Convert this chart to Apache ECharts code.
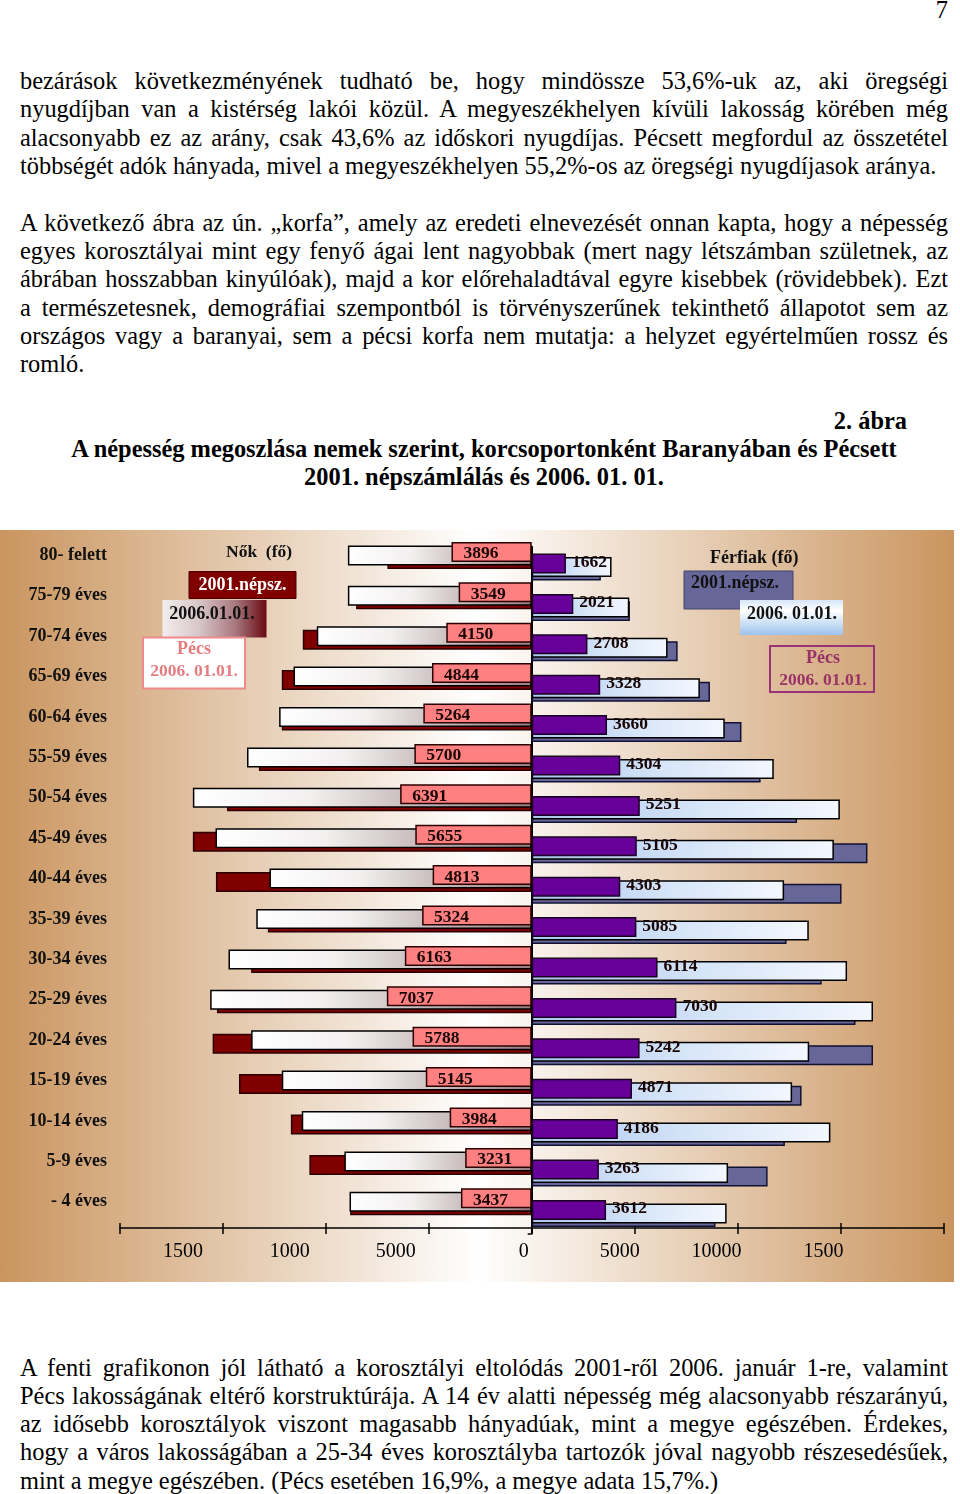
<!DOCTYPE html>
<html><head><meta charset="utf-8">
<script src="https://cdn.jsdelivr.net/npm/echarts@6/dist/echarts.min.js"></script>
<style>
html,body{margin:0;padding:0;background:#fff;}
body{width:960px;height:1494px;position:relative;overflow:hidden;font-family:"Liberation Serif","Times New Roman",serif;color:#000;}
.ln{position:absolute;left:20px;width:928px;font-size:24.4px;line-height:28px;white-space:nowrap;}
.b{font-weight:bold;}
#chart{position:absolute;left:0;top:530px;width:954px;height:752px;
 background:linear-gradient(to right,#ca955f 0%,#ffffff 50%,#ca955f 100%);}
</style></head><body>
<div class="ln" style="left:900px;width:48px;text-align:right;top:-4px">7</div>

<div class="ln j" style="top:67px">bezárások következményének tudható be, hogy mindössze 53,6%-uk az, aki öregségi</div>
<div class="ln j" style="top:95px">nyugdíjban van a kistérség lakói közül. A megyeszékhelyen kívüli lakosság körében még</div>
<div class="ln j" style="top:124px">alacsonyabb ez az arány, csak 43,6% az időskori nyugdíjas. Pécsett megfordul az összetétel</div>
<div class="ln" style="top:152px">többségét adók hányada, mivel a megyeszékhelyen 55,2%-os az öregségi nyugdíjasok aránya.</div>

<div class="ln j" style="top:209px">A következő ábra az ún. „korfa”, amely az eredeti elnevezését onnan kapta, hogy a népesség</div>
<div class="ln j" style="top:237px">egyes korosztályai mint egy fenyő ágai lent nagyobbak (mert nagy létszámban születnek, az</div>
<div class="ln j" style="top:265px">ábrában hosszabban kinyúlóak), majd a kor előrehaladtával egyre kisebbek (rövidebbek). Ezt</div>
<div class="ln j" style="top:294px">a természetesnek, demográfiai szempontból is törvényszerűnek tekinthető állapotot sem az</div>
<div class="ln j" style="top:322px">országos vagy a baranyai, sem a pécsi korfa nem mutatja: a helyzet egyértelműen rossz és</div>
<div class="ln" style="top:350px">romló.</div>

<div class="ln b" style="left:20px;width:887px;text-align:right;top:407px">2. ábra</div>
<div class="ln b" style="left:0;width:968px;text-align:center;top:435px">A népesség megoszlása nemek szerint, korcsoportonként Baranyában és Pécsett</div>
<div class="ln b" style="left:0;width:968px;text-align:center;top:463px">2001. népszámlálás és 2006. 01. 01.</div>

<div id="chart"></div>

<div class="ln j" style="top:1354px">A fenti grafikonon jól látható a korosztályi eltolódás 2001-ről 2006. január 1-re, valamint</div>
<div class="ln j" style="top:1382px">Pécs lakosságának eltérő korstruktúrája. A 14 év alatti népesség még alacsonyabb részarányú,</div>
<div class="ln j" style="top:1410px">az idősebb korosztályok viszont magasabb hányadúak, mint a megye egészében. Érdekes,</div>
<div class="ln j" style="top:1438px">hogy a város lakosságában a 25-34 éves korosztályba tartozók jóval nagyobb részesedésűek,</div>
<div class="ln" style="top:1467px">mint a megye egészében. (Pécs esetében 16,9%, a megye adata 15,7%.)</div>

<script>
// ---- data (bottom row first) ----
const categories = ['- 4 éves','5-9 éves','10-14 éves','15-19 éves','20-24 éves','25-29 éves','30-34 éves','35-39 éves','40-44 éves','45-49 éves','50-54 éves','55-59 éves','60-64 éves','65-69 éves','70-74 éves','75-79 éves','80- felett'];
const female2001 = [8820, 10800, 11700, 14220, 15500, 15290, 13630, 12820, 15340, 16460, 14800, 13250, 12140, 12140, 11120, 8530, 7010];
const female2006 = [8850, 9100, 11170, 12140, 13630, 15620, 14730, 13380, 12740, 15360, 16460, 13830, 12270, 11570, 10440, 8930, 8930];
const femalePecs = [3437, 3231, 3984, 5145, 5788, 7037, 6163, 5324, 4813, 5655, 6391, 5700, 5264, 4844, 4150, 3549, 3896];
const male2001 = [8930, 11460, 12300, 13110, 16580, 15730, 14090, 12380, 15050, 16310, 12890, 11120, 10190, 8660, 7090, 4770, 3360];
const male2006 = [9470, 9540, 14510, 12650, 13480, 16580, 15320, 13460, 12260, 14680, 14970, 11760, 9380, 8170, 6600, 4740, 3880];
const malePecs = [3612, 3263, 4186, 4871, 5242, 7030, 6114, 5085, 4303, 5105, 5251, 4304, 3660, 3328, 2708, 2021, 1662];
const axisTickValues = [0, 5000, 10000, 15000, 20000];
const femaleTickLabels = ['', '5000', '1000', '1500', ''];
const maleTickLabels = ['0', '5000', '10000', '1500', ''];

// ---- justify text lines ----
document.querySelectorAll('.j').forEach(el => {
  const t = el.textContent.trim();
  el.textContent = '';
  const s = document.createElement('span');
  s.textContent = t; el.appendChild(s);
  const w = s.getBoundingClientRect().width;
  const n = (t.match(/ /g) || []).length;
  s.style.wordSpacing = ((928 - w) / n) + 'px';
});

const FONT = '"Liberation Serif","Times New Roman",serif';
const femaleShift = [0, -33, -36, -40, 0];
const maleShift = [-8, -15, -21, -17, 0];
function richFor(prefix, shifts) {
  const r = {};
  shifts.forEach((s, i) => {
    r[prefix + i] = {fontSize: 20, fontFamily: FONT, color: '#000', padding: [0, -2 * s, 0, 0]};
  });
  return r;
}
function labelFmt(prefix, labels) {
  return v => { const i = axisTickValues.indexOf(v); const t = labels[i]; return t ? '{' + prefix + i + '|' + t + '}' : ''; };
}
const baseX = {type: 'value', min: 0, max: 20000, interval: 5000, splitLine: {show: false}};
const femaleGrad = {type: 'linear', x: 0, y: 0, x2: 1, y2: 0, colorStops: [
  {offset: 0, color: '#ffffff'}, {offset: 0.35, color: '#f2efef'}, {offset: 1, color: '#957c7e'}]};
const maleGrad = {type: 'linear', x: 0, y: 0, x2: 1, y2: 0, colorStops: [
  {offset: 0, color: '#a9c6ee'}, {offset: 0.55, color: '#d6e5f8'}, {offset: 1, color: '#f3f7fe'}]};
const GAP = '-82.5%';
function bar(name, data, gi, color, border, z, label) {
  return {type: 'bar', name, data, xAxisIndex: gi, yAxisIndex: gi, barWidth: 20, barGap: GAP, z,
    itemStyle: {color, borderColor: border, borderWidth: 1.5}, label: label || {show: false}};
}
const labelBase = {show: true, fontSize: 17.5, fontWeight: 'bold', fontFamily: FONT, color: '#1a0505'};
const tickStyle = {color: '#000', width: 1.5};

const chart = echarts.init(document.getElementById('chart'));
chart.setOption({
  animation: false,
  backgroundColor: 'transparent',
  grid: [
    {left: 120, top: 5.2, width: 411.7, height: 686.8},
    {left: 531.7, top: 16.8, width: 411.7, height: 686.8}
  ],
  xAxis: [
    Object.assign({}, baseX, {gridIndex: 0, inverse: true, position: 'bottom', offset: 6,
      axisLine: {show: true, lineStyle: tickStyle},
      axisTick: {show: true, length: 6, lineStyle: tickStyle},
      axisLabel: {show: true, margin: 14, formatter: labelFmt('f', femaleTickLabels), rich: richFor('f', femaleShift)}}),
    Object.assign({}, baseX, {gridIndex: 1, position: 'bottom', offset: -5.6,
      axisLine: {show: true, lineStyle: tickStyle},
      axisTick: {show: true, length: 6, lineStyle: tickStyle},
      axisLabel: {show: true, margin: 14, formatter: labelFmt('m', maleTickLabels), rich: richFor('m', maleShift)}}),
    // upper halves of the crossing ticks (top-positioned axes moved down onto the base line)
    Object.assign({}, baseX, {gridIndex: 0, inverse: true, position: 'top', offset: -692.8,
      axisLine: {show: false}, axisTick: {show: true, inside: false, length: 5, lineStyle: tickStyle},
      axisLabel: {show: false}}),
    Object.assign({}, baseX, {gridIndex: 1, position: 'top', offset: -681.2,
      axisLine: {show: false}, axisTick: {show: true, inside: false, length: 5, lineStyle: tickStyle},
      axisLabel: {show: false}})
  ],
  yAxis: [
    {gridIndex: 0, type: 'category', data: categories, position: 'left',
      axisLine: {show: false, onZero: false}, axisTick: {show: false},
      axisLabel: {show: true, margin: 13, fontSize: 18, fontWeight: 'bold', fontFamily: FONT, color: '#111', padding: [8, 0, 0, 0]}},
    {gridIndex: 1, type: 'category', data: categories, position: 'left',
      axisLine: {show: true, onZero: false, lineStyle: {color: '#000', width: 2}},
      axisTick: {show: true, length: 4, lineStyle: tickStyle}, axisLabel: {show: false}}
  ],
  series: [
    bar('Nők Pécs 2006. 01.01.', femalePecs, 0, '#ff8080', '#2a0000', 4,
      Object.assign({}, labelBase, {position: 'insideLeft', distance: 12, offset: [0, 2]})),
    bar('Nők 2006.01.01.', female2006, 0, femaleGrad, '#000000', 3),
    bar('Nők 2001.népsz.', female2001, 0, '#800000', '#2a0000', 2),
    bar('Férfiak Pécs 2006. 01.01.', malePecs, 1, '#660099', '#1a0022', 4,
      Object.assign({}, labelBase, {position: 'right', distance: 6, offset: [0, -1]})),
    bar('Férfiak 2006. 01.01.', male2006, 1, maleGrad, '#000000', 3),
    bar('Férfiak 2001.népsz.', male2001, 1, '#666699', '#111133', 2)
  ],
  graphic: {elements: [
    // women legend
    {type: 'text', z: 10, x: 226, y: 22, style: {text: 'Nők  (fő)', fill: '#111', font: 'bold 17.5px ' + FONT, align: 'left', verticalAlign: 'middle'}},
    {type: 'rect', z: 10, shape: {x: 189, y: 41.5, width: 107, height: 27}, style: {fill: '#800000', stroke: '#4a0000', lineWidth: 1}},
    {type: 'text', z: 11, x: 242.5, y: 55, style: {text: '2001.népsz.', fill: '#ffffff', font: 'bold 18px ' + FONT, align: 'center', verticalAlign: 'middle'}},
    {type: 'rect', z: 10, shape: {x: 162.5, y: 70, width: 104, height: 37.5}, style: {fill: {type: 'linear', x: 0, y: 0, x2: 1, y2: 0, colorStops: [
      {offset: 0, color: '#f3eced'}, {offset: 0.35, color: '#d8c7ca'}, {offset: 0.7, color: '#a8787e'}, {offset: 1, color: '#6a0a14'}]}}},
    {type: 'text', z: 11, x: 212, y: 84, style: {text: '2006.01.01.', fill: '#111', font: 'bold 18px ' + FONT, align: 'center', verticalAlign: 'middle'}},
    {type: 'rect', z: 12, shape: {x: 143, y: 107.5, width: 102, height: 51}, style: {fill: '#ffffff', stroke: '#ee8a8a', lineWidth: 2}},
    {type: 'text', z: 13, x: 194, y: 119.5, style: {text: 'Pécs', fill: '#e47c80', font: 'bold 18px ' + FONT, align: 'center', verticalAlign: 'middle'}},
    {type: 'text', z: 13, x: 194, y: 141.5, style: {text: '2006. 01.01.', fill: '#e47c80', font: 'bold 17.5px ' + FONT, align: 'center', verticalAlign: 'middle'}},
    // men legend
    {type: 'text', z: 10, x: 710, y: 28, style: {text: 'Férfiak (fő)', fill: '#111', font: 'bold 18px ' + FONT, align: 'left', verticalAlign: 'middle'}},
    {type: 'rect', z: 10, shape: {x: 684, y: 41, width: 109, height: 38}, style: {fill: '#666699', stroke: '#44446e', lineWidth: 1}},
    {type: 'text', z: 11, x: 735, y: 53, style: {text: '2001.népsz.', fill: '#111', font: 'bold 18px ' + FONT, align: 'center', verticalAlign: 'middle'}},
    {type: 'rect', z: 12, shape: {x: 740, y: 70, width: 103, height: 35}, style: {fill: {type: 'linear', x: 0, y: 0, x2: 0, y2: 1, colorStops: [
      {offset: 0, color: '#d6e6fa'}, {offset: 0.3, color: '#ffffff'}, {offset: 1, color: '#9cc2ee'}]}}},
    {type: 'text', z: 13, x: 792, y: 84, style: {text: '2006. 01.01.', fill: '#111', font: 'bold 18px ' + FONT, align: 'center', verticalAlign: 'middle'}},
    {type: 'rect', z: 12, shape: {x: 770, y: 116, width: 104, height: 46}, style: {fill: 'transparent', stroke: '#993377', lineWidth: 2}},
    {type: 'text', z: 13, x: 823, y: 128, style: {text: 'Pécs', fill: '#993366', font: 'bold 18px ' + FONT, align: 'center', verticalAlign: 'middle'}},
    {type: 'text', z: 13, x: 823, y: 150, style: {text: '2006. 01.01.', fill: '#993366', font: 'bold 17.5px ' + FONT, align: 'center', verticalAlign: 'middle'}}
  ]}
});
</script>
</body></html>
